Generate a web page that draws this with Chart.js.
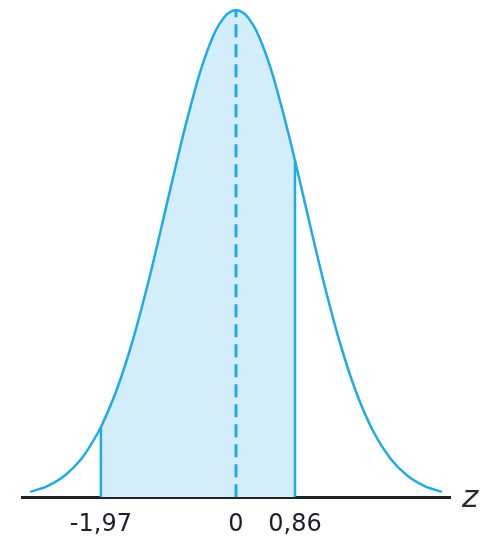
<!DOCTYPE html>
<html>
<head>
<meta charset="utf-8">
<script src="https://cdn.jsdelivr.net/npm/chart.js@4/dist/chart.umd.min.js"></script>
<style>
  html, body { margin: 0; padding: 0; background: #ffffff; }
  #c { display: block; }
</style>
</head>
<body>
<canvas id="c" width="488" height="541"></canvas>
<script>
// Standard normal density, sampled along z
const zValues = [-3, -2.75, -2.5, -2.25, -2, -1.75, -1.5, -1.25, -1, -0.75, -0.5, -0.25,
                 0, 0.25, 0.5, 0.75, 1, 1.25, 1.5, 1.75, 2, 2.25, 2.5, 2.75, 3];
const density = [0.0044, 0.0091, 0.0175, 0.0317, 0.0540, 0.0863, 0.1295, 0.1826, 0.2420, 0.3011, 0.3521, 0.3867,
                 0.3989, 0.3867, 0.3521, 0.3011, 0.2420, 0.1826, 0.1295, 0.0863, 0.0540, 0.0317, 0.0175, 0.0091, 0.0044];

// Bounds of the shaded interval and the curve height at each of them
const bounds = [-1.97, 0.86];
const boundDensity = [0.0573, 0.2756];

// Centre of the distribution
const meanZ = 0;
const meanDensity = 0.3989;

// Tick labels on the z axis
const tickValues = [-1.97, 0, 0.86];
const axisName = 'z';

const lineColor = '#1eabe6';
const fillColor = '#d3edfa';

// Curve nodes, with the interval bounds inserted
const curve = zValues.map((z, i) => ({ x: z, y: density[i] }));
bounds.forEach((b, i) => curve.push({ x: b, y: boundDensity[i] }));
curve.sort((a, b) => a.x - b.x);

const shaded = curve.filter(p => p.x >= bounds[0] - 1e-9 && p.x <= bounds[1] + 1e-9);

const boundLines = bounds.map((b, i) => ({
  type: 'line',
  data: [{ x: b, y: 0 }, { x: b, y: boundDensity[i] }],
  borderColor: lineColor,
  borderWidth: 2.5,
  pointRadius: 0,
  fill: false,
  order: 3
}));

const axisNamePlugin = {
  id: 'axisName',
  afterDraw(chart) {
    const { ctx, chartArea } = chart;
    ctx.save();
    ctx.font = 'italic 31px "DejaVu Sans"';
    ctx.fillStyle = '#2a2a33';
    ctx.textAlign = 'left';
    ctx.textBaseline = 'alphabetic';
    ctx.fillText(axisName, chartArea.right + 12, chartArea.bottom + 10);
    ctx.restore();
  }
};

new Chart(document.getElementById('c'), {
  type: 'line',
  data: {
    datasets: [
      {
        data: shaded,
        backgroundColor: fillColor,
        borderWidth: 0,
        pointRadius: 0,
        fill: 'origin',
        cubicInterpolationMode: 'monotone',
        order: 5
      },
      {
        data: curve,
        borderColor: lineColor,
        borderWidth: 2.5,
        pointRadius: 0,
        fill: false,
        cubicInterpolationMode: 'monotone',
        order: 2
      },
      ...boundLines,
      {
        data: [{ x: meanZ, y: 0 }, { x: meanZ, y: meanDensity }],
        borderColor: lineColor,
        borderWidth: 3,
        borderDash: [13, 7],
        pointRadius: 0,
        fill: false,
        order: 1
      }
    ]
  },
  options: {
    responsive: false,
    animation: false,
    layout: { padding: { left: 22, right: 38, top: 0, bottom: 2 } },
    plugins: { legend: { display: false }, tooltip: { enabled: false } },
    scales: {
      x: {
        type: 'linear',
        min: -3.12,
        max: 3.12,
        grid: { display: false, drawTicks: false },
        border: { display: true, color: '#222222', width: 3 },
        afterBuildTicks(scale) {
          scale.ticks = tickValues.map(v => ({ value: v }));
        },
        afterFit(scale) {
          scale.height -= 13;
        },
        ticks: {
          autoSkip: false,
          maxRotation: 0,
          padding: 13,
          color: '#1d1d2b',
          font: { family: '"DejaVu Sans"', size: 24 },
          callback: v => String(v).replace('.', ',')
        }
      },
      y: {
        display: false,
        min: 0,
        max: 0.4071
      }
    }
  },
  plugins: [axisNamePlugin]
});
</script>
</body>
</html>
